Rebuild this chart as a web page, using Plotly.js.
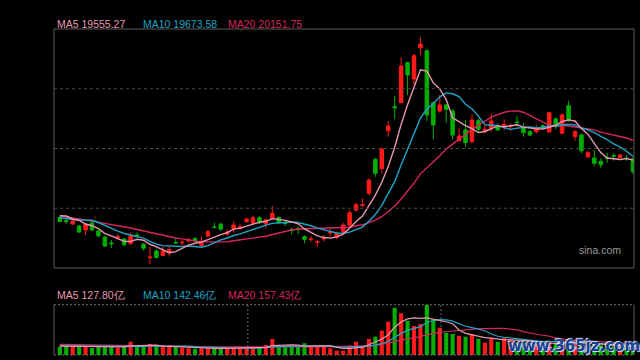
<!DOCTYPE html>
<html>
<head>
<meta charset="utf-8">
<script src="https://cdn.plot.ly/plotly-3.0.1.min.js"></script>
<style>html,body{margin:0;padding:0;background:#000;}#chart{width:640px;height:360px;}</style>
</head>
<body>
<div id="chart"></div>
<script>
// ---- Data (Hang Seng style daily K-line, 90 sessions) ----
const opens = [17824,17728,17629,17569,17448,17659,17418,17237,17057,17222,17177,17042,17297,17018,16614,16816,16681,16765,17072,17063,17117,17198,16982,17267,17538,17629,17328,17478,17487,17698,17650,17818,17629,17800,17830,17659,17463,17478,17246,17159,17078,17177,17358,17228,17397,17598,18050,18180,18553,19576,19293,20437,21162,21280,22484,21993,22935,22845,21280,21030,21211,21030,20136,20458,20106,20738,20407,20509,20557,20593,20563,20699,20557,20407,20407,20587,20398,20789,20359,21189,20256,20307,19654,19615,19516,19615,19687,19624,19615,19585];
const highs = [17878,17779,17749,17599,17644,17689,17463,17267,17147,17343,17207,17379,17373,17057,16936,16867,16936,16951,17207,17147,17216,17222,17252,17448,17668,17644,17463,17698,17620,17830,17869,17869,17800,18170,17848,17728,17529,17547,17288,17267,17147,17297,17499,17397,17668,18050,18270,18402,18992,19606,19937,20729,21481,22646,22514,22746,23248,22887,21310,21512,21241,21081,20527,20759,20931,20810,20609,20940,20660,20780,20660,20879,20660,20458,20609,20629,20999,20840,20960,21340,20458,20359,19826,19856,19606,19775,19757,19736,19705,19654];
const lows = [17674,17629,17599,17358,17298,17418,17222,16936,16906,17162,16951,16997,17222,16831,16425,16590,16650,16650,17042,16997,17072,17072,16921,17246,17499,17427,17267,17358,17469,17668,17629,17629,17487,17770,17620,17568,17319,17319,17048,17096,16945,17096,17246,17168,17348,17547,17999,18149,18501,19052,19155,20256,20780,21262,21511,21812,22716,20738,20178,20979,20678,20178,20106,19955,20058,20407,20359,20407,20437,20458,20437,20557,20256,20277,20359,20509,20389,20479,20338,20708,20136,19757,19606,19374,19323,19474,19534,19615,19534,19134];
const closes = [17704,17704,17719,17388,17620,17454,17273,16966,17036,17243,17012,17267,17282,16900,16635,16620,16816,16861,17057,17078,17147,17102,17057,17397,17523,17469,17388,17599,17547,17770,17818,17668,17749,17950,17680,17644,17442,17460,17168,17177,17096,17198,17379,17349,17598,17969,18210,18210,18953,19155,19886,20578,21126,22384,22114,22694,23047,20910,20609,21211,21081,20307,20277,20076,20759,20479,20479,20729,20458,20623,20587,20681,20377,20307,20509,20569,20979,20609,20910,20738,20407,19835,19775,19456,19414,19597,19669,19705,19600,19203];
const ma5 = [17878,17869,17780,17740,17627,17577,17491,17340,17270,17194,17106,17105,17168,17141,17019,16941,16851,16766,16798,16886,16992,17049,17088,17156,17245,17310,17367,17475,17505,17555,17624,17680,17710,17791,17773,17738,17693,17635,17479,17378,17269,17220,17204,17240,17324,17499,17701,17867,18188,18499,18883,19356,19940,20626,21218,21779,22273,22230,21875,21694,21372,20824,20697,20590,20500,20380,20414,20504,20581,20554,20575,20616,20545,20515,20492,20489,20548,20595,20715,20761,20729,20500,20333,20042,19777,19615,19582,19568,19597,19555];
const ma10 = [17815,17785,17764,17749,17743,17740,17674,17583,17480,17411,17342,17298,17254,17205,17107,17023,16978,16967,16969,16953,16966,16950,16927,16977,17066,17151,17208,17282,17331,17400,17467,17524,17593,17648,17664,17681,17687,17673,17635,17576,17503,17456,17419,17359,17351,17384,17460,17535,17714,17912,18191,18529,18903,19407,19859,20331,20815,21085,21250,21456,21575,21548,21463,21233,21097,20876,20619,20601,20586,20527,20477,20515,20525,20548,20523,20532,20582,20570,20615,20627,20609,20524,20464,20379,20269,20172,20041,19951,19820,19666];
const ma20 = [17875,17833,17809,17782,17749,17719,17674,17644,17613,17574,17544,17508,17463,17418,17373,17328,17282,17243,17207,17182,17154,17124,17091,17091,17086,17087,17093,17124,17150,17176,17217,17237,17260,17313,17365,17416,17447,17477,17483,17488,17485,17490,17506,17504,17507,17532,17574,17604,17674,17744,17847,17993,18161,18383,18605,18857,19138,19310,19482,19684,19883,20039,20183,20320,20478,20603,20717,20843,20918,20991,21026,21032,20994,20890,20810,20704,20600,20585,20600,20577,20543,20519,20494,20463,20396,20352,20311,20260,20217,20146];
// turnover, 亿
const volumes = [116,130,116,130,116,98,116,116,116,102,116,186,116,116,154,116,116,116,116,102,94,88,94,94,98,94,98,102,94,94,94,108,140,224,116,116,116,116,164,116,136,116,94,60,60,133,186,116,224,256,340,466,662,584,480,406,434,700,500,382,312,294,270,256,290,228,172,234,186,242,224,180,190,160,150,140,200,160,200,150,180,170,150,150,135,130,120,115,120,154];
const volMa5 = [125,124,123,123,121.6,118,115.2,115.2,112.4,109.6,113.2,127.2,127.2,127.2,137.6,137.6,123.6,123.6,123.6,113.2,108.8,103.2,98.8,94.4,93.6,93.6,95.6,97.2,97.2,96.4,96.4,98.4,106,132,136.4,140.8,142.4,137.6,125.6,125.6,129.6,129.6,125.2,104.4,93.2,92.6,106.6,111,143.8,183,224.4,280.4,389.6,461.6,506.4,519.6,513.2,520.8,504,484.4,465.6,437.6,351.6,302.8,284.4,267.6,243.2,236,222,212.4,211.6,213.2,204.4,199.2,180.8,164,168,162,170,170,178,172,170,160,157,147,137,130,124,127.8];
const volMa10 = [128,127,126,125,124,123,121,119,117,115.6,115.6,121.2,121.2,119.8,123.6,125.4,125.4,125.4,125.4,125.4,123.2,113.4,111.2,109,103.4,101.2,99.4,98,95.8,95,95,97,101.6,114.6,116.4,118.6,120.4,121.8,128.8,131,135.2,136,131.4,115,109.4,111.1,118.1,118.1,124.1,138.1,158.5,193.5,250.3,302.7,344.7,372,396.8,455.2,482.8,495.4,492.6,475.4,436.2,403.4,384.4,366.6,340.4,293.8,262.4,248.4,239.6,228.2,220.2,210.6,196.6,187.8,190.6,183.2,184.6,175.4,171,170,166,165,163.5,162.5,154.5,150,142,142.4];
const volMa20 = [150,148,147,145,143,141,140,138,136,134,133,131,130,128,127,125,124,123,121,120.5,119.4,117.3,116.2,114.4,113.5,113.3,112.4,111.7,110.6,110.2,109.1,105.2,106.4,111.8,109.9,109.9,109.9,109.9,112.3,113,115.1,116.5,116.5,114.8,112.9,114.9,119.3,120,126.5,134.6,146.9,164.8,190.9,208.9,227.1,241.6,257.5,286.7,303.5,316.8,325.6,334.5,343.3,353.1,364.6,369.3,368.6,374.5,372.6,371.9,366.1,351.8,328.2,307,290.5,277.2,265.5,238.5,223.5,211.9,205.3,199.1,193.1,187.8,180,175.2,172.6,166.6,163.3,158.9];
const priceLegend = ['MA5 19555.27', 'MA10 19673.58', 'MA20 20151.75'];
const volLegend = ['MA5 127.80亿', 'MA10 142.46亿', 'MA20 157.43亿'];
const watermark = 'www.365jz.com';
const source = 'sina.com';

// ---- Styling ----
const RED = '#ff1a1a', GREEN = '#00b000';
const C5 = '#e898b0', C10 = '#1ea5c8', C20 = '#d8245e';
const idx = closes.map((_, i) => i);
const W = 640, H = 360, L = 54, R = 6;
const px = v => (v - L) / (W - L - R);
const py = v => (H - v) / H;
const mainDom = [py(268), py(29)];
const volDom = [py(355), py(304.7)];

const traces = [
  {type:'candlestick', x:idx, open:opens, high:highs, low:lows, close:closes, xaxis:'x', yaxis:'y',
   increasing:{line:{color:RED, width:1}, fillcolor:RED},
   decreasing:{line:{color:GREEN, width:1}, fillcolor:GREEN},
   whiskerwidth:0, hoverinfo:'skip', showlegend:false},
  {type:'scatter', mode:'lines', x:idx, y:ma20, line:{color:C20, width:1.4}, yaxis:'y', hoverinfo:'skip'},
  {type:'scatter', mode:'lines', x:idx, y:ma10, line:{color:C10, width:1.4}, yaxis:'y', hoverinfo:'skip'},
  {type:'scatter', mode:'lines', x:idx, y:ma5, line:{color:C5, width:1.4}, yaxis:'y', hoverinfo:'skip'},
  {type:'bar', x:idx, y:volumes, yaxis:'y2', hoverinfo:'skip',
   marker:{color: closes.map((c, i) => c >= opens[i] ? RED : GREEN), line:{width:0}}},
  {type:'scatter', mode:'lines', x:idx, y:volMa20, line:{color:C20, width:1.2}, yaxis:'y2', hoverinfo:'skip'},
  {type:'scatter', mode:'lines', x:idx, y:volMa10, line:{color:C10, width:1.2}, yaxis:'y2', hoverinfo:'skip'},
  {type:'scatter', mode:'lines', x:idx, y:volMa5, line:{color:C5, width:1.2}, yaxis:'y2', hoverinfo:'skip'}
];

const FONT = 'Liberation Sans, Arial, sans-serif';
const legendX = [55, 140.5, 225.5];
const colors = [C5, C10, C20];
const annotations = [];
priceLegend.forEach((t, k) => annotations.push({text:t, xref:'paper', yref:'paper', x:px(legendX[k]), y:py(24), xanchor:'left', yanchor:'middle', showarrow:false, font:{family:FONT, size:10.5, color:colors[k]}}));
volLegend.forEach((t, k) => annotations.push({text:t, xref:'paper', yref:'paper', x:px(legendX[k]), y:py(295), xanchor:'left', yanchor:'middle', showarrow:false, font:{family:FONT, size:10.5, color:colors[k]}}));
annotations.push({text:source, xref:'paper', yref:'paper', x:px(623), y:py(250), xanchor:'right', yanchor:'middle', showarrow:false, font:{family:FONT, size:10.5, color:'#9a9a9a'}});
annotations.push({text:watermark, xref:'paper', yref:'paper', x:px(574), y:py(346), xanchor:'center', yanchor:'middle', showarrow:false, font:{family:'DejaVu Sans, sans-serif', size:15, color:'#1b3f8f', weight:'bold', shadow:'1px 1px 1px #d8e6ff, -1px -1px 1px #d8e6ff'}});

const grid = '#4a4a4a', frame = '#5c5c5c';
const shapes = [
  {type:'rect', xref:'paper', yref:'paper', x0:0, x1:1, y0:mainDom[0], y1:mainDom[1], line:{color:frame, width:1}},
  ...[0.25, 0.5, 0.75].map(f => ({type:'line', xref:'paper', yref:'paper', x0:0, x1:1, y0:mainDom[0] + f*(mainDom[1]-mainDom[0]), y1:mainDom[0] + f*(mainDom[1]-mainDom[0]), line:{color:grid, width:1, dash:'3px,3px'}})),
  {type:'line', xref:'paper', yref:'paper', x0:0, x1:1, y0:volDom[1], y1:volDom[1], line:{color:'#6a6a6a', width:1, dash:'2px,2px'}},
  {type:'line', xref:'paper', yref:'paper', x0:0, x1:1, y0:volDom[0], y1:volDom[0], line:{color:'#6a6a6a', width:1, dash:'2px,2px'}},
  {type:'line', xref:'paper', yref:'paper', x0:0, x1:0, y0:volDom[0], y1:volDom[1], line:{color:frame, width:1}},
  {type:'line', xref:'paper', yref:'paper', x0:1, x1:1, y0:volDom[0], y1:volDom[1], line:{color:frame, width:1}},
  ...[29.2, 59.2].map(v => ({type:'line', xref:'x', yref:'paper', x0:v, x1:v, y0:volDom[0], y1:volDom[1], line:{color:'#6a6a6a', width:1, dash:'2px,2px'}}))
];

const layout = {
  width:W, height:H, margin:{l:L, r:R, t:0, b:0},
  paper_bgcolor:'#000', plot_bgcolor:'#000', showlegend:false,
  boxgap:0.22, bargap:0.36,
  xaxis:{range:[-0.9, 89.16], showgrid:false, zeroline:false, showticklabels:false, ticks:'', rangeslider:{visible:false}, fixedrange:true},
  yaxis:{domain:mainDom, range:[16304, 23498], showgrid:false, zeroline:false, showticklabels:false, ticks:''},
  yaxis2:{domain:volDom, range:[0, 705], showgrid:false, zeroline:false, showticklabels:false, ticks:''},
  annotations, shapes
};
Plotly.newPlot('chart', traces, layout, {displayModeBar:false, staticPlot:true});
</script>
</body>
</html>
